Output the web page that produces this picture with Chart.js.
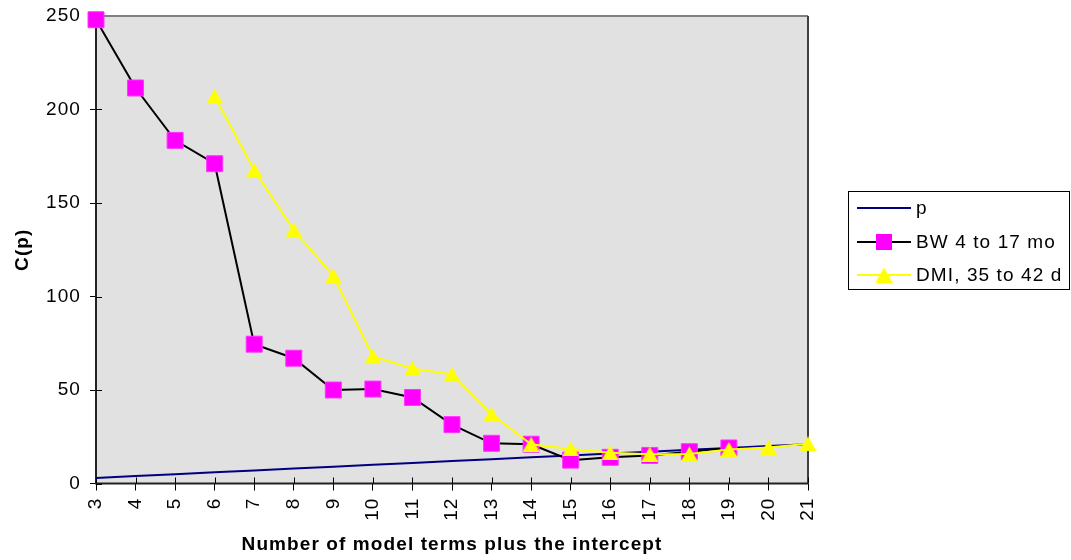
<!DOCTYPE html>
<html>
<head>
<meta charset="utf-8">
<script src="https://cdn.jsdelivr.net/npm/chart.js@4/dist/chart.umd.min.js"></script>
<style>
  html, body { margin: 0; padding: 0; background: #fff; }
  #wrap { width: 1071px; height: 560px; position: relative; }
</style>
</head>
<body>
<div id="wrap"><canvas id="cp"></canvas></div>
<script>
// Number of model terms (including the intercept)
const terms = ['3','4','5','6','7','8','9','10','11','12','13','14','15','16','17','18','19','20','21'];
// Reference line C(p) = p
const pLine = [3,4,5,6,7,8,9,10,11,12,13,14,15,16,17,18,19,20,21];
// Mallows' C(p) for body weight, 4 to 17 months
const bwCp = [248, 211.5, 183.5, 171, 74.5, 67, 50, 50.5, 46, 31.5, 21.5, 21, 12.5, 14, 15, 17, 19, null, null];
// Mallows' C(p) for dry matter intake, 35 to 42 days
const dmiCp = [null, null, null, 207, 167.5, 135.5, 111, 68, 61.5, 58.3, 37, 21, 18.5, 16.5, 15.7, 15.8, 18.2, 19.3, 21.3];
const yTicks = [0, 50, 100, 150, 200, 250];

const FONT = '"Liberation Sans", Arial, sans-serif';
const FSIZE = 19;
const SPACING = '1.1px';

// Triangle marker centred in its own box
function triangleMarker(w, h, color) {
  const c = document.createElement('canvas');
  c.width = w; c.height = h;
  const g = c.getContext('2d');
  g.fillStyle = color;
  g.beginPath();
  g.moveTo(w / 2, 0);
  g.lineTo(w, h);
  g.lineTo(0, h);
  g.closePath();
  g.fill();
  return c;
}
const tri = triangleMarker(17, 15, '#FFFF00');

// Slightly wider text, applied before measuring and drawing
const spacingPlugin = {
  id: 'spacing',
  beforeUpdate(chart) { chart.ctx.letterSpacing = SPACING; },
  beforeLayout(chart) { chart.ctx.letterSpacing = SPACING; },
  beforeDraw(chart) { chart.ctx.letterSpacing = SPACING; }
};

// Plot frame: grey background, axis lines and ticks crossing the axes
const framePlugin = {
  id: 'frame',
  beforeDatasetsDraw(chart) {
    const { ctx, chartArea: a } = chart;
    ctx.save();
    ctx.fillStyle = '#E1E1E1';
    ctx.fillRect(a.left, a.top, a.right - a.left, a.bottom - a.top);
    ctx.lineWidth = 2;
    ctx.strokeStyle = '#808080';
    ctx.beginPath(); ctx.moveTo(a.left, a.top); ctx.lineTo(a.right, a.top); ctx.stroke();
    ctx.strokeStyle = '#404040';
    ctx.beginPath(); ctx.moveTo(a.right, a.top); ctx.lineTo(a.right, a.bottom); ctx.stroke();
    ctx.strokeStyle = '#222';
    ctx.beginPath(); ctx.moveTo(a.left, a.top - 1); ctx.lineTo(a.left, a.bottom); ctx.lineTo(a.right, a.bottom); ctx.stroke();
    ctx.lineWidth = 1;
    ctx.strokeStyle = '#000';
    const xs = chart.scales.x, ys = chart.scales.y;
    ctx.beginPath();
    xs.ticks.forEach((t, i) => {
      const px = Math.round(xs.getPixelForTick(i)) + 0.5;
      ctx.moveTo(px, a.bottom); ctx.lineTo(px, a.bottom - 6);
    });
    ys.ticks.forEach((t, i) => {
      const py = Math.round(ys.getPixelForTick(i)) + 0.5;
      ctx.moveTo(a.left, py); ctx.lineTo(a.left + 6, py);
    });
    ctx.stroke();
    ctx.restore();
  }
};

// Boxed legend showing line sample with its marker
const legendPlugin = {
  id: 'boxLegend',
  afterDraw(chart) {
    const { ctx } = chart;
    const box = { x: 848.5, y: 191.5, w: 221, h: 98 };
    ctx.save();
    ctx.fillStyle = '#fff';
    ctx.fillRect(box.x, box.y, box.w, box.h);
    ctx.strokeStyle = '#000';
    ctx.lineWidth = 1;
    ctx.strokeRect(box.x, box.y, box.w, box.h);
    const rows = [208, 242, 275];
    ctx.font = FSIZE + 'px ' + FONT;
    ctx.letterSpacing = SPACING;
    ctx.textBaseline = 'middle';
    chart.data.datasets.forEach((ds, i) => {
      const y = rows[i];
      ctx.strokeStyle = ds.borderColor;
      ctx.lineWidth = 2;
      ctx.beginPath(); ctx.moveTo(857, y); ctx.lineTo(911, y); ctx.stroke();
      if (ds.pointStyle === 'rect') {
        ctx.fillStyle = ds.pointBackgroundColor;
        ctx.fillRect(876, y - 8, 16, 16);
      } else if (ds.pointStyle instanceof HTMLCanvasElement) {
        ctx.drawImage(ds.pointStyle, 884 - 8.5, y - 7.5);
      }
      ctx.fillStyle = '#000';
      ctx.fillText(ds.label, 916, y + 1);
    });
    ctx.restore();
  }
};

new Chart(document.getElementById('cp'), {
  type: 'line',
  data: {
    labels: terms,
    datasets: [
      {
        label: 'p', data: pLine, borderColor: '#000080', borderWidth: 2,
        pointRadius: 0, pointStyle: false, order: 2, clip: false, tension: 0
      },
      {
        label: 'BW 4 to 17 mo', data: bwCp, borderColor: '#000000', borderWidth: 2,
        pointStyle: 'rect', pointRadius: 11.3, pointBackgroundColor: '#FF00FF',
        pointBorderColor: '#FF33FF', pointBorderWidth: 1, order: 1, clip: false, tension: 0
      },
      {
        label: 'DMI, 35 to 42 d', data: dmiCp, borderColor: '#FFFF00', borderWidth: 2,
        pointStyle: tri, pointRadius: 9, order: 0, clip: false, tension: 0
      }
    ]
  },
  options: {
    responsive: true,
    maintainAspectRatio: false,
    animation: false,
    events: [],
    layout: { padding: { left: 0, top: 16, right: 263, bottom: 4 } },
    plugins: { legend: { display: false }, tooltip: { enabled: false } },
    scales: {
      x: {
        type: 'category',
        offset: false,
        grid: { display: true, drawOnChartArea: false, drawTicks: true, tickLength: 7, color: '#000', lineWidth: 1 },
        border: { display: false },
        ticks: {
          autoSkip: false, minRotation: 90, maxRotation: 90, padding: 7,
          color: '#000', font: { family: FONT, size: FSIZE }
        },
        title: {
          display: true, text: 'Number of model terms plus the intercept',
          color: '#000', font: { family: FONT, size: FSIZE, weight: 'bold' }, padding: 0
        },
        afterFit(s) { s.height = 560 - 483.5 - 4; s.paddingLeft = 0; s.paddingRight = 0; }
      },
      y: {
        min: 0, max: 250,
        afterBuildTicks(s) { s.ticks = yTicks.map(v => ({ value: v })); },
        grid: { display: true, drawOnChartArea: false, drawTicks: true, tickLength: 6, color: '#000', lineWidth: 1 },
        border: { display: false },
        ticks: { padding: 9, color: '#000', font: { family: FONT, size: FSIZE } },
        title: {
          display: true, text: 'C(p)',
          color: '#000', font: { family: FONT, size: FSIZE, weight: 'bold' }, padding: { top: 11, bottom: 0 }
        },
        afterFit(s) { s.width = 96; s.paddingTop = 0; s.paddingBottom = 0; }
      }
    }
  },
  plugins: [spacingPlugin, framePlugin, legendPlugin]
});
</script>
</body>
</html>
